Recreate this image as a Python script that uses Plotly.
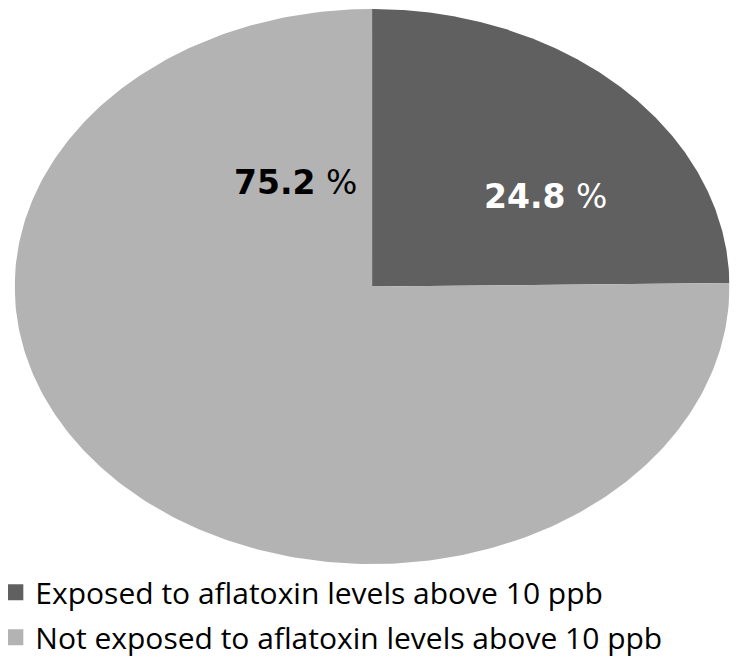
import numpy as np
import plotly.graph_objects as go

categories = ["Exposed to aflatoxin levels above 10 ppb",
              "Not exposed to aflatoxin levels above 10 ppb"]
values = [24.8, 75.2]
colors = ["#606060", "#b3b3b3"]
label_colors = ["white", "black"]

fig = go.Figure()

total = sum(values)
start = 0.0
for cat, v, c in zip(categories, values, colors):
    end = start + v / total
    t = np.linspace(start, end, 300)
    ang = np.deg2rad(90 - 360 * t)
    xs = np.concatenate([[0], np.cos(ang), [0]])
    ys = np.concatenate([[0], np.sin(ang), [0]])
    fig.add_trace(go.Scatter(x=xs, y=ys, mode="lines", fill="toself",
                             fillcolor=c, line=dict(width=0, color=c),
                             hoverinfo="skip", showlegend=False))
    start = end

# legend entries
for i, (cat, c) in enumerate(zip(categories, colors)):
    fig.add_trace(go.Scatter(x=[None], y=[None], mode="markers", name=cat,
                             marker=dict(symbol="square", size=17, color=c),
                             legendgroup=f"g{i}"))

# labels
label_pos = [(0.484, 0.323), (-0.213, 0.373)]
for v, (lx, ly), lc in zip(values, label_pos, label_colors):
    fig.add_annotation(x=lx, y=ly, xref="x", yref="y", showarrow=False,
                       text=f"<b>{v:.1f}</b> %",
                       font=dict(family="DejaVu Sans", size=33, color=lc))

fig.update_layout(
    width=746, height=659,
    margin=dict(l=0, r=0, t=0, b=0, autoexpand=False),
    paper_bgcolor="white", plot_bgcolor="white",
    xaxis=dict(domain=[0.009, 0.9671], range=[-1, 1], visible=False, fixedrange=True),
    yaxis=dict(domain=[0.1563, 0.9985], range=[-1, 1], visible=False, fixedrange=True),
    legend=dict(x=-0.017, xanchor="left", y=0.153, yanchor="top",
                font=dict(family="Open Sans", size=30, color="black"),
                traceorder="grouped", tracegroupgap=3,
                bgcolor="rgba(0,0,0,0)"),
    showlegend=True,
)

fig.write_html("out.html")
